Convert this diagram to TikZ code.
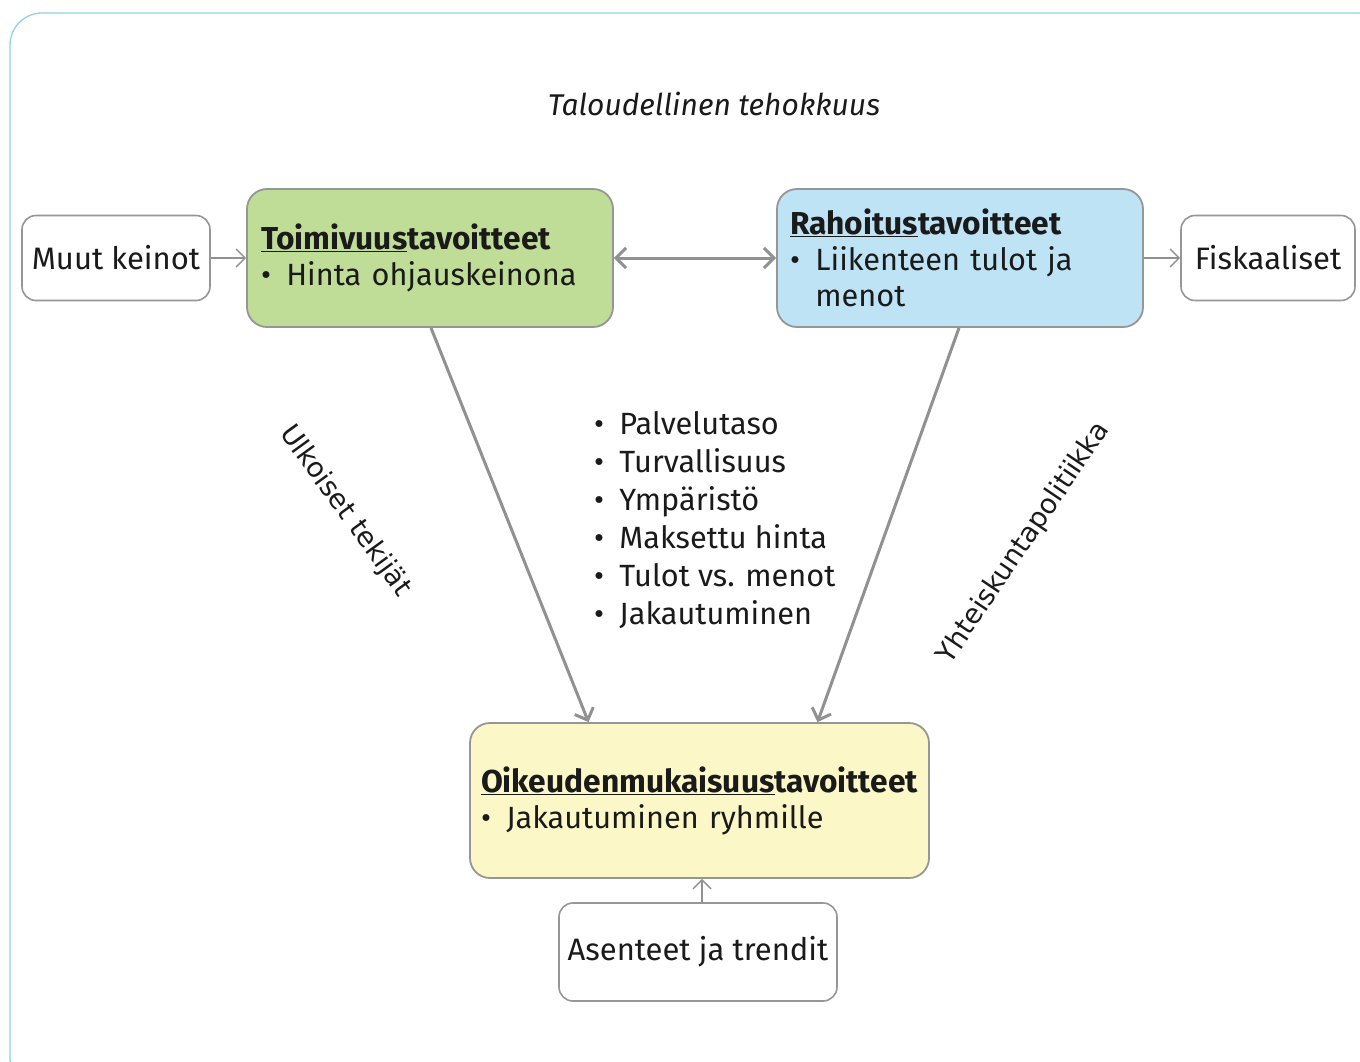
\documentclass[tikz,border=0pt]{standalone}
\usepackage{fontspec}
\setmainfont{Fira Sans}
\newfontfamily\labelfont{DejaVu Sans}
\usetikzlibrary{arrows.meta}

\definecolor{frameblue}{RGB}{143,211,224}
\definecolor{boxgray}{RGB}{150,150,150}
\definecolor{arrowgray}{RGB}{145,145,145}
\definecolor{fillgreen}{RGB}{192,221,152}
\definecolor{fillblue}{RGB}{189,227,245}
\definecolor{fillyellow}{RGB}{252,247,199}
\definecolor{ink}{RGB}{26,26,26}

\tikzset{
  plainbox/.style={draw=boxgray, line width=1.6pt, rounded corners=14pt, fill=white,
    inner sep=0pt, font=\fontsize{31}{36}\selectfont, text=ink},
  goalbox/.style={draw=boxgray, line width=1.8pt, rounded corners=20pt,
    inner sep=0pt, align=left, font=\fontsize{30.7}{36}\selectfont, text=ink},
  thinarrow/.style={draw=arrowgray, line width=1.4pt,
    -{Straight Barb[length=9pt,width=18pt,line width=1.4pt]}},
  thickarrow/.style={draw=arrowgray, line width=3pt,
    -{Straight Barb[length=10pt,width=20pt,line width=3pt]}},
  sidelabel/.style={font=\labelfont\fontsize{27.4}{30}\selectfont, text=ink},
}

\newcommand{\goaltitle}[2]{{\fontsize{31.7}{36}\selectfont\bfseries\underline{#1}#2}}

\begin{document}
\begin{tikzpicture}[x=1pt,y=-1pt]
  \useasboundingbox (0,0) rectangle (1360,1061);
  \clip (0,0) rectangle (1360,1061);
  \fill[white] (0,0) rectangle (1360,1061);

  % outer frame, running past the right and lower edges
  \draw[frameblue, line width=1.3pt, rounded corners=32pt] (10,13) rectangle (1390,1090);

  \node[font=\itshape\fontsize{30}{34}\selectfont, text=ink] (title) at (714,104) {Taloudellinen tehokkuus};

  % small side boxes
  \node[plainbox, minimum width=188pt, minimum height=85pt] (muut) at (116,258) {Muut keinot};
  \node[plainbox, minimum width=174pt, minimum height=85pt] (fisk) at (1268,258) {Fiskaaliset};
  \node[plainbox, minimum width=278pt, minimum height=98pt] (asen) at (698,952) {Asenteet ja trendit};

  % goal boxes
  \node[goalbox, fill=fillgreen, minimum width=366pt, minimum height=138pt, text width=338pt] (toim) at (430,258)
    {\goaltitle{Toimivuus}{tavoitteet}\\\textbullet\enspace Hinta ohjauskeinona};
  \node[goalbox, fill=fillblue, minimum width=366pt, minimum height=138pt, text width=340pt] (raho) at (960,258)
    {\goaltitle{Rahoitus}{tavoitteet}\\\textbullet\enspace Liikenteen tulot ja\\\hphantom{\textbullet\enspace}menot};
  \node[goalbox, fill=fillyellow, minimum width=459pt, minimum height=155pt, text width=437pt] (oike) at (699.5,800.5)
    {\goaltitle{Oikeudenmukaisuus}{tavoitteet}\\\textbullet\enspace Jakautuminen ryhmille};

  % criteria list in the middle
  \node[anchor=north west, align=left, font=\fontsize{30.7}{38}\selectfont, text=ink, inner sep=0pt] (list) at (594,411)
    {\textbullet\enspace Palvelutaso\\
     \textbullet\enspace Turvallisuus\\
     \textbullet\enspace Ympäristö\\
     \textbullet\enspace Maksettu hinta\\
     \textbullet\enspace Tulot vs. menot\\
     \textbullet\enspace Jakautuminen};

  % rotated side labels
  \node[sidelabel, rotate=-54] (ulko) at (345,511) {Ulkoiset tekijät};
  \node[sidelabel, rotate=56] (yhte) at (1024,543) {Yhteiskuntapolitiikka};

  % connectors
  \draw[thinarrow] (muut.east) -- (toim.west);
  \draw[thinarrow] (raho.east) -- (fisk.west);
  \draw[thinarrow] ([xshift=4pt]asen.north) -- ([xshift=4pt]asen.north |- oike.south);
  \draw[thickarrow, {Straight Barb[length=10pt,width=20pt,line width=3pt]}-{Straight Barb[length=10pt,width=20pt,line width=3pt]}] (toim.east) -- (raho.west);
  \draw[thickarrow] ([xshift=1pt]toim.south) -- ([xshift=-111pt]oike.north);
  \draw[thickarrow] ([xshift=-1pt]raho.south) -- ([xshift=118pt]oike.north);
\end{tikzpicture}
\end{document}
